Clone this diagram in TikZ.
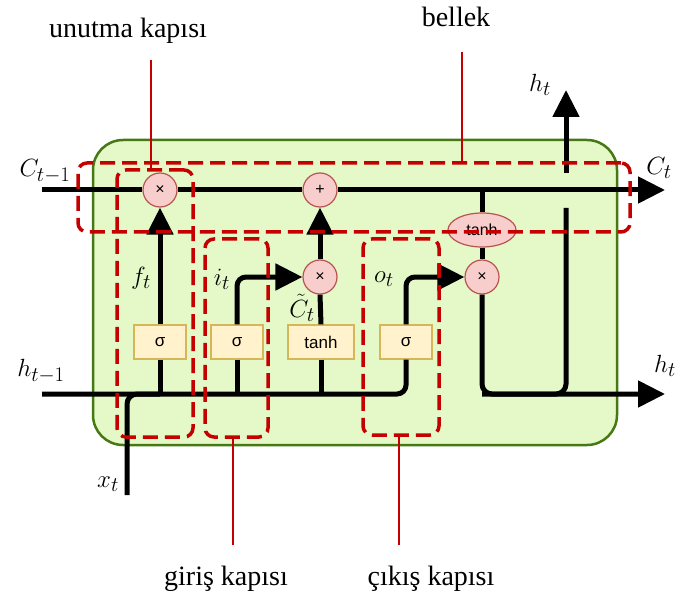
\documentclass[tikz,border=0pt]{standalone}
\usepackage{fontspec}
\setmainfont{Liberation Serif}
\newfontfamily\arialf{Liberation Sans}
\usetikzlibrary{arrows.meta,shapes.geometric}
\definecolor{cellfill}{RGB}{228,248,200}
\definecolor{celldraw}{RGB}{70,120,20}
\definecolor{opfill}{RGB}{248,206,204}
\definecolor{opdraw}{RGB}{184,84,80}
\definecolor{actfill}{RGB}{255,242,204}
\definecolor{actdraw}{RGB}{214,182,86}
\definecolor{gatered}{RGB}{196,0,0}
\begin{document}
\begin{tikzpicture}[x=1pt,y=-1pt,
  flow/.style={line width=5pt},
  tipped/.style={-{Triangle[length=27pt,width=26pt]}},
  opnode/.style={circle, minimum size=34pt, inner sep=0pt, fill=opfill, draw=opdraw, line width=1.2pt, font=\arialf\fontsize{16}{16}\selectfont},
  actnode/.style={rectangle, minimum width=52pt, minimum height=34pt, inner sep=0pt, fill=actfill, draw=actdraw, line width=1.2pt, font=\arialf\fontsize{17}{17}\selectfont},
  gatebox/.style={rectangle, inner sep=0pt, draw=gatered, line width=3.5pt, dash pattern=on 15pt off 7pt, rounded corners=9pt},
  callout/.style={draw=gatered, line width=2.2pt},
  mathlbl/.style={inner sep=0pt, font=\fontsize{30}{30}\selectfont},
  txtlbl/.style={inner sep=0pt, font=\fontsize{28}{28}\selectfont, anchor=base},
]
\useasboundingbox (0,0) rectangle (680,596);

% cell
\node[rectangle, minimum width=524pt, minimum height=305pt, inner sep=0pt,
      fill=cellfill, draw=celldraw, line width=2.5pt, rounded corners=30pt] (cell) at (355,292.5) {};

% operations
\node[opnode] (m1) at (160,190) {×};
\node[opnode] (a1) at (320,190) {+};
\node[opnode] (m2) at (320,277) {×};
\node[opnode] (m3) at (482,277) {×};
\node[ellipse, minimum width=68pt, minimum height=34pt, inner sep=0pt, fill=opfill, draw=opdraw, line width=1.2pt, font=\arialf\fontsize{16}{16}\selectfont] (th) at (482,230) {tanh};
\node[actnode] (s1) at (160,342) {σ};
\node[actnode] (s2) at (237,342) {σ};
\node[actnode, minimum width=66pt] (s3) at (321,342) {tanh};
\node[actnode] (s4) at (406,342) {σ};

% end points
\coordinate (cin) at (42,190);
\coordinate (cout) at (665,190);
\coordinate (hin) at (42,394);
\coordinate (hout) at (665,394);
\coordinate (xin) at (127,495);
\coordinate (vbreak) at (566,208);
\coordinate (vresume) at (566,173);
\coordinate (htop) at (566,90);

% cell state line
\draw[flow] (cin) -- (m1.west);
\draw[flow] (m1.east) -- (a1.west);
\draw[flow, tipped] (a1.east) -- (cout);

% hidden / input lines
\draw[flow, rounded corners=9pt] (hin) -| (s4.south);
\draw[flow, rounded corners=10pt] (xin) |- (s1 |- hin);
\draw[flow] (s1.south) -- (s1 |- hin);
\draw[flow] (s2.south) -- (s2 |- hin);
\draw[flow] (s3.south) -- (s3 |- hin);

% gates
\draw[flow, tipped] (s1.north) -- (m1.south);
\draw[flow, tipped, rounded corners=9pt] (s2.north) |- (m2.west);
\draw[flow] (s3.north) -- (m2.south);
\draw[flow, tipped] (m2.north) -- (a1.south);
\draw[flow, tipped, rounded corners=9pt] (s4.north) |- (m3.west);

% output
\draw[flow] (m3 |- cin) -- (th.north);
\draw[flow] (th.south) -- (m3.north);
\draw[flow, tipped, rounded corners=10pt] (m3.south) |- (hout);
\draw[flow, rounded corners=10pt] (vbreak) |- (m3 |- hout);
\draw[flow, tipped] (vresume) -- (htop);

% math labels
\node[mathlbl] (lc0) at (45,171) {$C_{t-1}$};
\node[mathlbl] (lc1) at (659,168) {$C_t$};
\node[mathlbl] (lh0) at (41,371) {$h_{t-1}$};
\node[mathlbl] (lh1) at (665,366) {$h_t$};
\node[mathlbl] (lh2) at (540,85) {$h_t$};
\node[mathlbl] (lx) at (108,484) {$x_t$};
\node[mathlbl] (lf) at (141,278) {$f_t$};
\node[mathlbl] (li) at (222,279) {$i_t$};
\node[mathlbl] (lct) at (302,308) {$\tilde{C}_t$};
\node[mathlbl] (lo) at (384,279) {$o_t$};

% dashed gate groups
\node[gatebox, minimum width=552pt, minimum height=69pt] (bellekbox) at (354,197.5) {};
\node[gatebox, minimum width=76pt, minimum height=267pt] (unutmabox) at (155,303.5) {};
\node[gatebox, minimum width=63pt, minimum height=198pt] (girisbox) at (236.5,338) {};
\node[gatebox, minimum width=76pt, minimum height=196pt] (cikisbox) at (401,337) {};

% callouts
\coordinate (uc) at (151,60);
\coordinate (bc) at (462,52);
\coordinate (gc) at (233,545);
\coordinate (cc) at (399,545);
\draw[callout] (uc) -- (uc |- unutmabox.north);
\draw[callout] (bc) -- (bc |- bellekbox.north);
\draw[callout] (gc) -- (gc |- girisbox.south);
\draw[callout] (cc) -- (cc |- cikisbox.south);

% text labels
\node[txtlbl] (tu) at (128,38) {unutma kapısı};
\node[txtlbl] (tb) at (456,27) {bellek};
\node[txtlbl] (tg) at (226,585) {giriş kapısı};
\node[txtlbl] (tc) at (431,585) {çıkış kapısı};
\end{tikzpicture}
\end{document}
